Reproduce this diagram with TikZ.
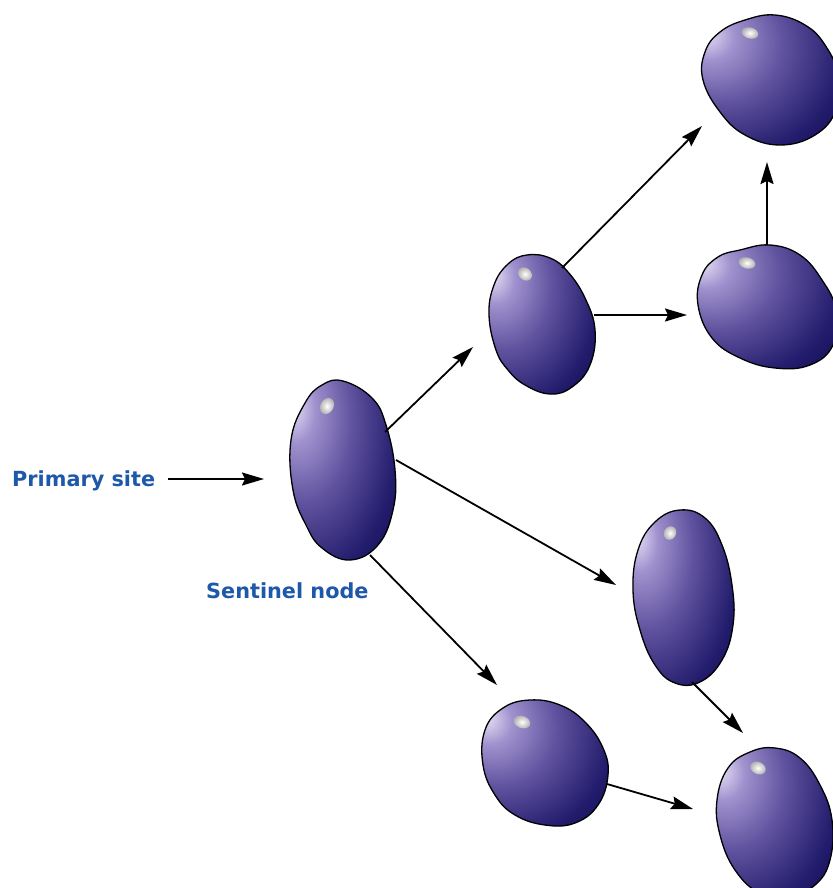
\documentclass[tikz,border=0pt]{standalone}
\usepackage{fontspec}
\setmainfont{DejaVu Sans}
\usetikzlibrary{arrows.meta}

\definecolor{labelblue}{RGB}{30,88,168}
\definecolor{blobA}{RGB}{236,230,248}
\definecolor{blobB}{RGB}{160,146,206}
\definecolor{blobC}{RGB}{96,82,158}
\definecolor{blobD}{RGB}{34,28,108}
\definecolor{blobE}{RGB}{8,6,66}

% light spot towards the upper left, dark navy towards the lower right
\pgfdeclareradialshading{blobshade}{\pgfpoint{-24bp}{18bp}}{%
  color(0bp)=(blobA); color(9bp)=(blobB); color(23bp)=(blobC);
  color(40bp)=(blobD); color(56bp)=(blobE); color(100bp)=(blobE)}

\begin{document}
\begin{tikzpicture}[x=1pt,y=-1pt,
  blob/.style={draw=black, line width=1.3pt, shading=blobshade},
  gloss/.style={inner color=white, outer color=gray!65},
  link/.style={line width=1.8pt, -{Stealth[length=22pt,width=13pt,inset=3pt]}},
  lbl/.style={text=labelblue, font=\fontsize{20.8}{24}\selectfont\bfseries, inner sep=0pt}]
\useasboundingbox (0,0) rectangle (832,888);

% sentinel node
\shadedraw[blob] plot[smooth cycle, tension=0.7] coordinates {
  (343,381) (372,398) (386,425) (395,470) (393,510) (378,545) (350,560)
  (322,548) (306,525) (293,490) (291,440) (305,403) (322,385)};
\shade[gloss, rotate around={-30:(327,406)}] (327,406) ellipse (6.5 and 8.5);

% upper middle node
\shadedraw[blob] plot[smooth cycle, tension=0.7] coordinates {
  (527,255) (550,258) (568,272) (585,298) (595,330) (590,365) (572,387)
  (550,394) (525,385) (508,370) (496,350) (489,315) (494,285) (508,264)};
\shade[gloss, rotate around={-40:(525,274)}] (525,274) ellipse (7.5 and 6);

% top right node
\shadedraw[blob] plot[smooth cycle, tension=0.7] coordinates {
  (745,20) (775,15) (805,25) (825,45) (838,75) (836,110) (815,135)
  (780,145) (745,135) (720,112) (703,80) (705,52) (720,32)};
\shade[gloss, rotate around={-15:(750,33)}] (750,33) ellipse (8.5 and 5.5);

% middle right node
\shadedraw[blob] plot[smooth cycle, tension=0.7] coordinates {
  (740,250) (770,245) (800,255) (822,280) (836,310) (833,345) (810,365)
  (775,368) (740,358) (712,338) (698,305) (702,275) (718,257)};
\shade[gloss, rotate around={-15:(747,263)}] (747,263) ellipse (8.5 and 5.5);

% lower right tall node
\shadedraw[blob] plot[smooth cycle, tension=0.7] coordinates {
  (680,510) (705,518) (722,545) (732,585) (733,625) (722,660) (700,682)
  (675,683) (655,665) (640,630) (633,590) (638,550) (655,522)};
\shade[gloss, rotate around={-30:(670,533)}] (670,533) ellipse (6 and 7);

% bottom middle node
\shadedraw[blob] plot[smooth cycle, tension=0.7] coordinates {
  (530,700) (560,705) (585,722) (603,748) (608,775) (598,805) (575,823)
  (545,825) (515,815) (495,795) (483,765) (485,730) (503,708)};
\shade[gloss, rotate around={-20:(522,722)}] (522,722) ellipse (8.5 and 6);

% bottom right node
\shadedraw[blob] plot[smooth cycle, tension=0.7] coordinates {
  (750,752) (775,748) (800,758) (820,785) (832,820) (830,860) (815,885)
  (790,895) (760,893) (735,870) (720,835) (717,800) (728,768)};
\shade[gloss, rotate around={-25:(758,768)}] (758,768) ellipse (8 and 6);

% labels
\node[lbl, anchor=base west] (primary) at (12,486) {Primary site};
\node[lbl, anchor=base west] (sentinel) at (206,598) {Sentinel node};

% connector end points
\coordinate (ps-in)  at (168,479);
\coordinate (ps-out) at (264,479);
\coordinate (sb-in)  at (385,432);
\coordinate (sb-out) at (473,347);
\coordinate (ba-in)  at (562,268);
\coordinate (ba-out) at (702,126);
\coordinate (bc-in)  at (594,315);
\coordinate (bc-out) at (687,315);
\coordinate (ca-in)  at (767,245);
\coordinate (ca-out) at (767,162);
\coordinate (sd-in)  at (396,460);
\coordinate (sd-out) at (616,585);
\coordinate (se-in)  at (370,555);
\coordinate (se-out) at (497,685);
\coordinate (df-in)  at (692,682);
\coordinate (df-out) at (743,733);
\coordinate (ef-in)  at (607,784);
\coordinate (ef-out) at (693,809);

% connectors
\draw[link] (ps-in) -- (ps-out);
\draw[link] (sb-in) -- (sb-out);
\draw[link] (ba-in) -- (ba-out);
\draw[link] (bc-in) -- (bc-out);
\draw[link] (ca-in) -- (ca-out);
\draw[link] (sd-in) -- (sd-out);
\draw[link] (se-in) -- (se-out);
\draw[link] (df-in) -- (df-out);
\draw[link] (ef-in) -- (ef-out);
\end{tikzpicture}
\end{document}
